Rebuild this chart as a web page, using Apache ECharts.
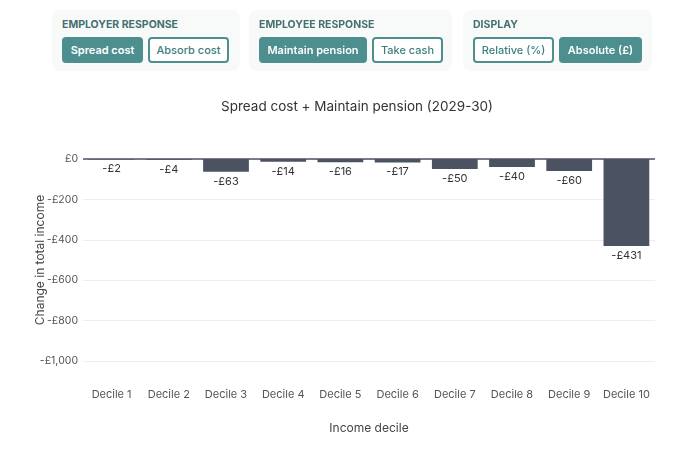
<!DOCTYPE html>
<html>
<head>
<meta charset="utf-8">
<script src="https://cdn.jsdelivr.net/npm/echarts@6/dist/echarts.min.js"></script>
<style>
  html, body { margin: 0; padding: 0; background: #fff; font-family: Inter, "Noto Sans", sans-serif; }
  #mainChart { position: absolute; left: 0; top: 0; width: 680px; height: 454px; }
  .panel { position: absolute; top: 10px; height: 61px; box-sizing: border-box; background: #f8f9f9; border-radius: 8px;
           padding: 8px 0 0 10px; white-space: nowrap; z-index: 2; }
  .panel h4 { margin: 0 0 6px 0; font-size: 10.5px; line-height: 13px; font-weight: 700; color: #44706f; }
  .btn { display: inline-block; box-sizing: border-box; height: 26px; line-height: 22px; text-align: center; margin-right: 5px;
         border: 2px solid #4d8f8f; border-radius: 4px; font-size: 11px; font-weight: 500; color: #3f7e7e; background: #fff; vertical-align: top; }
  .btn.on { background: #4d8f8f; color: #fff; font-weight: 600; }
</style>
</head>
<body>
<div class="panel" style="left:52px;width:188px">
  <h4>EMPLOYER RESPONSE</h4>
  <span class="btn on" style="width:81px">Spread cost</span><span class="btn" style="width:81px">Absorb cost</span>
</div>
<div class="panel" style="left:249px;width:203px">
  <h4>EMPLOYEE RESPONSE</h4>
  <span class="btn on" style="width:108px">Maintain pension</span><span class="btn" style="width:71px">Take cash</span>
</div>
<div class="panel" style="left:463px;width:189px">
  <h4>DISPLAY</h4>
  <span class="btn" style="width:81px">Relative (%)</span><span class="btn on" style="width:83px">Absolute (£)</span>
</div>
<div id="mainChart"></div>
<script>
var deciles = ['Decile 1', 'Decile 2', 'Decile 3', 'Decile 4', 'Decile 5', 'Decile 6', 'Decile 7', 'Decile 8', 'Decile 9', 'Decile 10'];
var changeValues = [-2, -4, -63, -14, -16, -17, -50, -40, -60, -431];
var yTicks = [0, -200, -400, -600, -800, -1000];

function pounds(v) {
  var s = '£' + Math.abs(v).toLocaleString('en-GB');
  return v < 0 ? '-' + s : s;
}

var myChart = echarts.init(document.getElementById('mainChart'));
var option = {
  backgroundColor: 'transparent',
  textStyle: { fontFamily: 'Inter' },
  title: {
    text: 'Spread cost + Maintain pension (2029-30)',
    left: 352,
    top: 95,
    textAlign: 'center',
    textStyle: { fontSize: 13.5, fontWeight: 'normal', color: '#333', fontFamily: 'Inter' }
  },
  grid: { left: 83, right: 25, top: 159, bottom: 93, containLabel: false },
  xAxis: {
    type: 'category',
    data: deciles,
    name: 'Income decile',
    nameLocation: 'middle',
    nameGap: 61,
    nameTextStyle: { fontSize: 12, color: '#444' },
    axisLine: { show: false, onZero: false },
    axisTick: { show: false },
    axisLabel: { interval: 0, margin: 28, fontSize: 11, color: '#555' }
  },
  yAxis: {
    type: 'value',
    min: yTicks[yTicks.length - 1],
    max: yTicks[0],
    interval: 200,
    name: 'Change in total income',
    nameLocation: 'middle',
    nameGap: 37,
    nameMoveOverlap: false,
    nameTextStyle: { fontSize: 12, color: '#444' },
    axisLine: { show: false },
    axisTick: { show: false },
    axisLabel: { fontSize: 10.5, color: '#555', margin: 5, formatter: pounds },
    splitLine: { lineStyle: { color: '#eeeeee' } }
  },
  series: [{
    type: 'bar',
    data: changeValues,
    barCategoryGap: '20%',
    itemStyle: { color: '#4b5261' },
    label: {
      show: true,
      position: 'bottom',
      distance: 4,
      fontSize: 11,
      color: '#333',
      formatter: function (p) { return pounds(p.value); }
    },
    markLine: {
      silent: true,
      symbol: 'none',
      label: { show: false },
      lineStyle: { color: '#4b5261', width: 1.5, type: 'solid' },
      data: [{ yAxis: 0 }]
    }
  }]
};
myChart.setOption(option, true);
</script>
</body>
</html>
